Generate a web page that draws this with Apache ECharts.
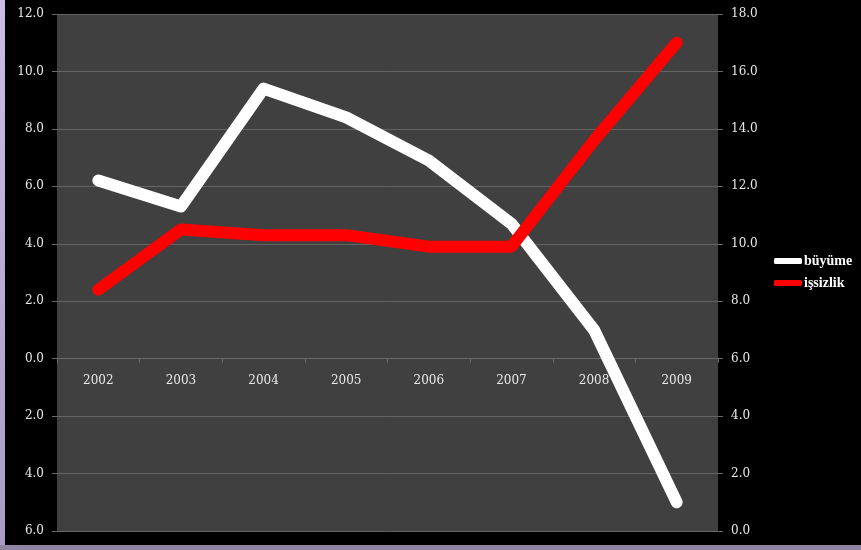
<!DOCTYPE html>
<html>
<head>
<meta charset="utf-8">
<script src="https://cdn.jsdelivr.net/npm/echarts@6/dist/echarts.min.js"></script>
<style>
html,body{margin:0;padding:0;background:#000;}
#wrap{width:861px;height:550px;position:relative;background:#000;overflow:hidden;}
#bl{position:absolute;left:0;top:0;width:5px;height:550px;background:linear-gradient(#cbbde4,#a99bc3);}
#bb{position:absolute;left:0;top:545px;width:861px;height:5px;background:#8e86a2;}
#chart{position:absolute;left:5px;top:0;width:856px;height:545px;}
</style>
</head>
<body>
<div id="wrap"><div id="bl"></div><div id="chart"></div><div id="bb"></div></div>
<script>
var years = ['2002','2003','2004','2005','2006','2007','2008','2009'];
var buyume = [6.2, 5.3, 9.4, 8.4, 6.9, 4.7, 1.0, -5.0];
var issizlik = [8.4, 10.5, 10.3, 10.3, 9.9, 9.9, 13.6, 17.0];
var leftMin = -6, leftMax = 12;

var W = 856, H = 545;
var gTop = 14, gBottom = 14, gLeft = 52, gRight = 143;
var gH = H - gTop - gBottom;
var zeroOffset = -gH * (0 - leftMin) / (leftMax - leftMin);

var chart = echarts.init(document.getElementById('chart'));
var font = '"DejaVu Serif", "Liberation Serif", serif';
chart.setOption({
  backgroundColor: '#000',
  animation: false,
  grid: {left: gLeft, right: gRight, top: gTop, bottom: gBottom, show: true, backgroundColor: '#404040', borderWidth: 0,
    containLabel: false, outerBoundsMode: 'none'},
  legend: {
    orient: 'vertical', left: 769, top: 254, padding: 0, itemWidth: 28, itemHeight: 6, itemGap: 8,
    icon: 'roundRect',
    textStyle: {color: '#fff', fontFamily: '"Liberation Serif", serif', fontWeight: 'bold', fontSize: 14, lineHeight: 14, padding: [0,0,0,-3]},
    data: ['büyüme', 'işsizlik']
  },
  xAxis: [{
    type: 'category', data: years, boundaryGap: true, position: 'bottom', offset: zeroOffset,
    axisLine: {onZero: false, lineStyle: {color: '#6a6a6a', width: 1}},
    axisTick: {show: true, length: 4, lineStyle: {color: '#6a6a6a'}},
    axisLabel: {color: '#e8e8e8', fontFamily: font, fontSize: 12, margin: 16},
    splitLine: {show: false}
  }],
  yAxis: [{
    type: 'value', min: leftMin, max: leftMax, interval: 2, position: 'left',
    axisLine: {show: false},
    axisTick: {show: true, length: 5, lineStyle: {color: '#6a6a6a'}},
    axisLabel: {color: '#e8e8e8', fontFamily: font, fontSize: 12, margin: 13,
      formatter: function(v){ return Math.abs(v).toFixed(1); }},
    splitLine: {show: true, lineStyle: {color: '#646464', width: 1}}
  }, {
    type: 'value', min: 0, max: 18, interval: 2, position: 'right',
    axisLine: {show: false},
    axisTick: {show: true, length: 5, lineStyle: {color: '#6a6a6a'}},
    axisLabel: {color: '#e8e8e8', fontFamily: font, fontSize: 12, margin: 13,
      formatter: function(v){ return v.toFixed(1); }},
    splitLine: {show: false}
  }],
  series: [{
    name: 'büyüme', type: 'line', yAxisIndex: 0, data: buyume,
    symbol: 'none', color: '#ffffff',
    lineStyle: {color: '#ffffff', width: 12, cap: 'round', join: 'round'}
  }, {
    name: 'işsizlik', type: 'line', yAxisIndex: 1, data: issizlik,
    symbol: 'none', color: '#ff0000',
    lineStyle: {color: '#ff0000', width: 12, cap: 'round', join: 'round'}
  }]
});
</script>
</body>
</html>
